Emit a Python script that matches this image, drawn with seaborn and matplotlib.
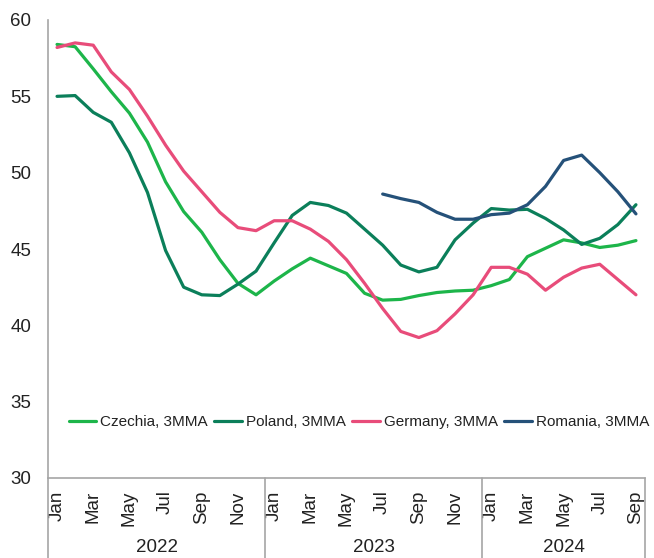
import numpy as np
import pandas as pd
import matplotlib
matplotlib.use("Agg")
import matplotlib.pyplot as plt
import matplotlib.transforms as mtransforms
import seaborn as sns

months = ["Jan", "Feb", "Mar", "Apr", "May", "Jun", "Jul", "Aug", "Sep", "Oct", "Nov", "Dec"] * 2 + \
         ["Jan", "Feb", "Mar", "Apr", "May", "Jun", "Jul", "Aug", "Sep"]
years = ["2022", "2023", "2024"]
year_lengths = [12, 12, 9]

czechia = [58.4, 58.25, 56.8, 55.3, 53.9, 52.0, 49.4, 47.45, 46.1, 44.3, 42.75, 42.0,
           42.9, 43.7, 44.4, 43.9, 43.4, 42.1, 41.65, 41.7, 41.95, 42.15, 42.25, 42.3,
           42.6, 43.0, 44.5, 45.05, 45.6, 45.4, 45.1, 45.25, 45.55]
poland = [55.0, 55.05, 53.95, 53.3, 51.3, 48.7, 44.9, 42.5, 42.0, 41.95, 42.7, 43.55,
          45.4, 47.2, 48.05, 47.85, 47.35, 46.3, 45.25, 43.95, 43.5, 43.8, 45.6, 46.7,
          47.65, 47.55, 47.6, 47.0, 46.25, 45.3, 45.7, 46.6, 47.9]
germany = [58.2, 58.5, 58.35, 56.6, 55.45, 53.7, 51.8, 50.1, 48.75, 47.4, 46.4, 46.2,
           46.85, 46.85, 46.3, 45.5, 44.3, 42.75, 41.1, 39.6, 39.2, 39.65, 40.75, 42.0,
           43.8, 43.8, 43.35, 42.3, 43.15, 43.75, 44.0, 43.0, 42.0]
romania = [np.nan] * 18 + [48.6, 48.3, 48.05, 47.4, 46.95, 46.95,
                           47.25, 47.35, 47.9, 49.1, 50.8, 51.15, 50.0, 48.75, 47.3]

series_names = ["Czechia, 3MMA", "Poland, 3MMA", "Germany, 3MMA", "Romania, 3MMA"]
series_vals = [czechia, poland, germany, romania]
colors = ["#1DB54A", "#0B7F5A", "#E84C7A", "#255179"]

n = len(months)
df = pd.concat([pd.DataFrame({"idx": np.arange(n), "value": v, "series": s})
                for s, v in zip(series_names, series_vals)], ignore_index=True)

sns.set_style("white")
plt.rcParams["font.family"] = ["Liberation Sans", "DejaVu Sans"]

W, H = 654, 558
fig = plt.figure(figsize=(W / 100, H / 100), dpi=100)
L, R, T, B = 48, 645, 20, 478
ax = fig.add_axes([L / W, (H - B) / H, (R - L) / W, (B - T) / H])

sns.lineplot(data=df, x="idx", y="value", hue="series", hue_order=series_names,
             palette=colors, linewidth=2.3, ax=ax, legend=True)

ax.set_xlim(-0.5, n - 0.5)
ax.set_ylim(30, 60)
ax.set_yticks(range(30, 61, 5))
ax.set_xlabel("")
ax.set_ylabel("")
ax.tick_params(axis="y", length=0, labelsize=13.5, pad=12, labelcolor="#222222")
ticks = list(range(0, n, 2))
ax.set_xticks(ticks)
ax.set_xticklabels([months[i] for i in ticks], rotation=90, fontsize=13.5, color="#222222")
ax.tick_params(axis="x", length=0, pad=9)
for lab in ax.get_xticklabels():
    lab.set_verticalalignment("top")

for side in ["top", "right"]:
    ax.spines[side].set_visible(False)
for side in ["left", "bottom"]:
    ax.spines[side].set_color("#A6A6A6")
    ax.spines[side].set_linewidth(1.2)

# year group separators and labels
trans = mtransforms.blended_transform_factory(ax.transData, ax.transAxes)
drop = (H - B) / (B - T)
edges = np.cumsum([0] + year_lengths) - 0.5
for e in edges:
    ax.plot([e, e], [0, -drop], transform=trans, color="#A6A6A6", lw=1.2, clip_on=False)
for i, y in enumerate(years):
    c = (edges[i] + edges[i + 1]) / 2
    ax.text(c, -(547 - B) / (B - T), y, transform=trans, ha="center", va="center",
            fontsize=13.5, color="#222222")

leg = ax.legend(loc="center", bbox_to_anchor=(359 / W, 1 - 422 / H),
                bbox_transform=fig.transFigure, ncol=4, frameon=False,
                fontsize=11, handlelength=1.83, handletextpad=0.26, columnspacing=0.4,
                borderaxespad=0, borderpad=0)
for t in leg.get_texts():
    t.set_color("#222222")
for h in leg.get_lines():
    h.set_linewidth(2.3)

fig.savefig("out.png", dpi=100)
